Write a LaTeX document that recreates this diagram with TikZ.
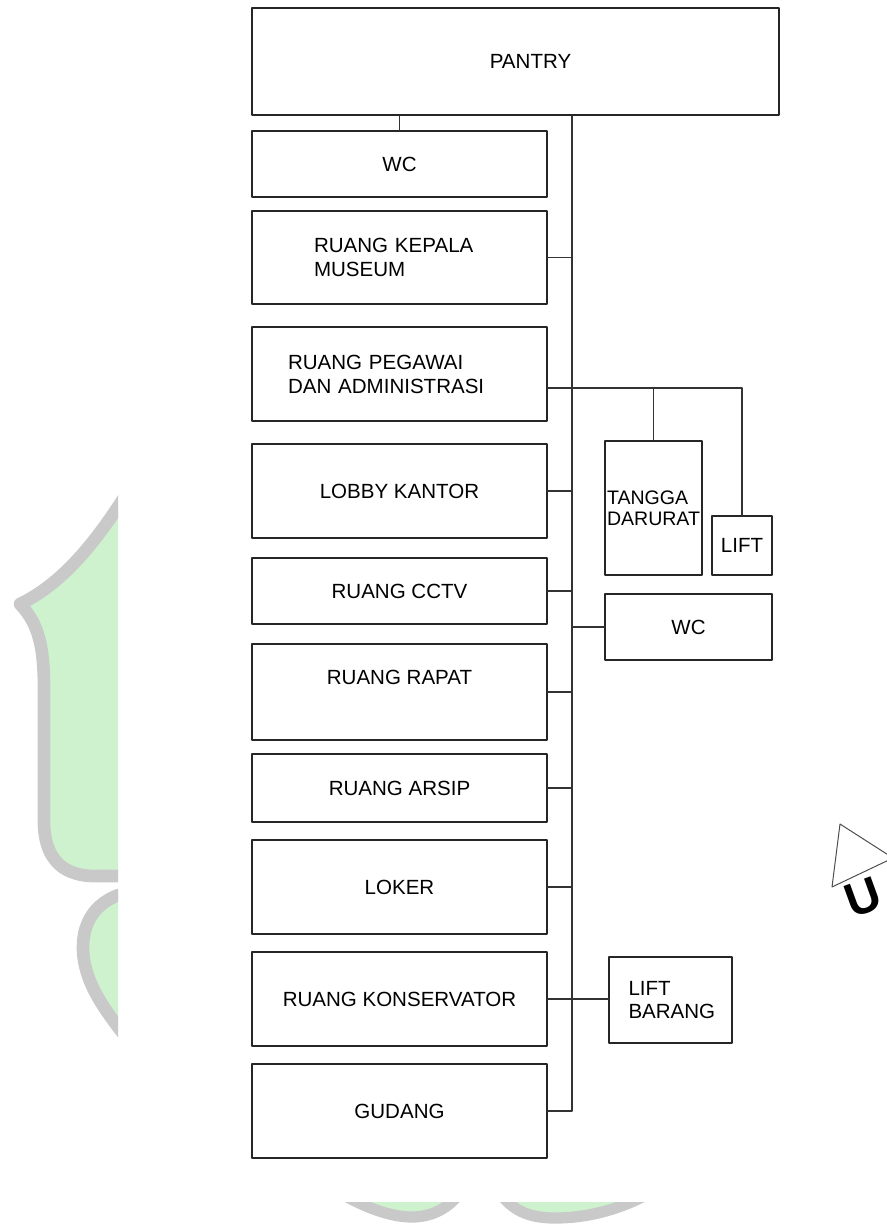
\documentclass[tikz,border=0pt]{standalone}
\usepackage{fontspec}
\setmainfont{Liberation Sans}
\usetikzlibrary{positioning}
\definecolor{daun}{RGB}{206,242,206}
\definecolor{tepi}{RGB}{201,201,201}
\def\px{0.025cm}
\tikzset{
	ruang/.style 2 args={draw=black!85, line width=0.8pt, rectangle, inner sep=0pt, align=center, minimum width=#1*\px, minimum height=#2*\px},
	kiri/.style 2 args={align=left, text width=#1*\px, inner xsep=#2*\px},
	garis/.style={draw=black!80, line width=0.8pt}
}
\begin{document}
\begin{tikzpicture}[x=\px, y=-\px, font=\fontsize{14.6}{17}\selectfont, line join=round, line cap=round]
	\useasboundingbox (0,0) rectangle (887,1225);
	\def\sx{572} % garis utama
	% latar (watermark)
	\begin{scope}
		\clip (0,0) rectangle (118,1225);
		\draw[tepi, fill=daun, line width=9pt] (130,488) .. controls (95,545) and (60,585) .. (20,604) .. controls (40,625) and (44,650) .. (44,690) -- (44,825) .. controls (46,870) and (75,877) .. (100,876) -- (140,876) -- (140,488) -- cycle;
		\draw[tepi, fill=daun, line width=9pt] (130,892) .. controls (98,898) and (83,920) .. (83,947) .. controls (83,982) and (105,1010) .. (128,1040) -- cycle;
	\end{scope}
	\begin{scope}
		\clip (0,1202) rectangle (887,1225);
		\draw[tepi, fill=daun, line width=8pt] (335,1190) .. controls (370,1211) and (395,1217) .. (412,1217) .. controls (435,1217) and (452,1205) .. (462,1190) -- cycle;
		\draw[tepi, fill=daun, line width=8pt] (498,1190) .. controls (510,1208) and (525,1218) .. (555,1218) .. controls (590,1218) and (622,1208) .. (648,1194) -- cycle;
	\end{scope}
	\begin{scope}
		\clip (0,0) rectangle (887,1225);
		\draw[black!70, line width=0.7pt] (840,824) -- (832,887) -- (893,858) -- cycle;
		\node[rotate=20, font=\fontsize{34}{34}\bfseries\selectfont] (huruf) at (863,897) {U};
	\end{scope}
	% ruang
	\node[ruang={527}{107}, label={[xshift=15*\px]center:PANTRY}] (pantry) at (515.5,61.5) {};
	\node[ruang={295}{66}] (wc) at (399.5,164) {WC};
	\node[ruang={295}{93}, kiri={171}{62}] (kepala) at (399.5,257.5) {RUANG KEPALA\\MUSEUM};
	\node[ruang={295}{94}, kiri={223}{36}] (pegawai) at (399.5,374) {RUANG PEGAWAI\\DAN ADMINISTRASI};
	\node[ruang={295}{94}] (lobby) at (399.5,491) {LOBBY KANTOR};
	\node[ruang={295}{66}] (cctv) at (399.5,591) {RUANG CCTV};
	\node[ruang={295}{96}, label={[yshift=15*\px]center:RUANG RAPAT}] (rapat) at (399.5,692) {};
	\node[ruang={295}{68}] (arsip) at (399.5,788) {RUANG ARSIP};
	\node[ruang={295}{94}] (loker) at (399.5,887) {LOKER};
	\node[ruang={295}{94}] (konservator) at (399.5,999) {RUANG KONSERVATOR};
	\node[ruang={295}{94}] (gudang) at (399.5,1111) {GUDANG};
	\node[ruang={97}{134}, kiri={93}{2}, font=\fontsize{13.9}{15}\selectfont] (tangga) at (653.5,508) {TANGGA\\DARURAT};
	\node[ruang={60}{59}] (lift) at (742,545.5) {LIFT};
	\node[ruang={167}{66}] (wcb) at (688.5,627) {WC};
	\node[ruang={123}{86}, kiri={84}{19.5}] (liftbarang) at (670.5,1000) {LIFT\\BARANG};
	% hubungan
	\coordinate (sp) at (\sx,0);
	\coordinate (peg) at ([yshift=-14*\px]pegawai.east);
	\draw[garis] (pantry.south -| sp) -- (gudang.east -| sp) -- (gudang.east);
	\draw[garis] (pantry.south -| wc.north) -- (wc.north);
	\foreach \r in {kepala,lobby,cctv,rapat,arsip,loker}
		\draw[garis] (\r.east) -- (\r.east -| sp);
	\draw[garis] (peg) -- (peg -| lift.north) -- (lift.north);
	\draw[garis] (peg -| tangga.north) -- (tangga.north);
	\draw[garis] (wcb.west -| sp) -- (wcb.west);
	\draw[garis] (konservator.east) -- (konservator.east -| liftbarang.west);
\end{tikzpicture}
\end{document}
